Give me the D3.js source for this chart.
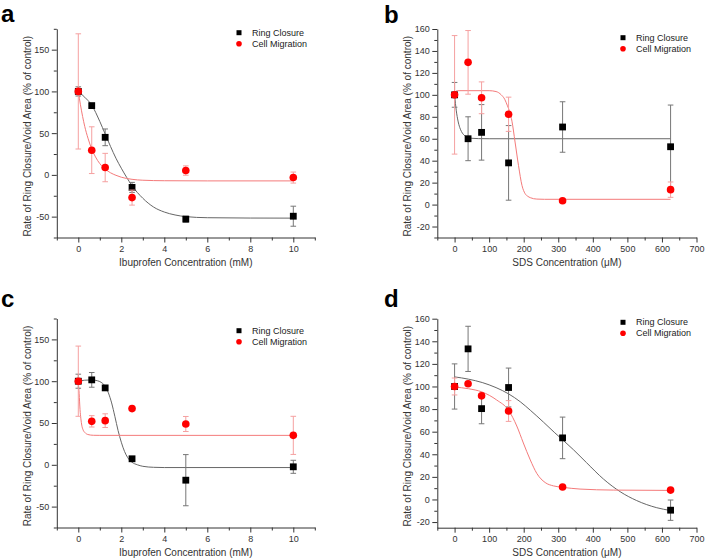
<!DOCTYPE html>
<html><head><meta charset="utf-8">
<script src="https://cdn.jsdelivr.net/npm/d3@7"></script>
<style>
body{margin:0;background:#fff}
svg{display:block}
text{font-family:"Liberation Sans",Arial,sans-serif}
</style>
</head><body>
<svg id="chart" width="705" height="560"></svg>
<script>
// ---------- data ----------
const ibuConc = [0, 0.625, 1.25, 2.5, 5, 10];
const sdsConc = [0, 39.0625, 78.125, 156.25, 312.5, 625];

const ibuXTicks = [0, 2, 4, 6, 8, 10];
const ibuYTicks = [-50, 0, 50, 100, 150];
const sdsXTicks = [0, 100, 200, 300, 400, 500, 600, 700];
const sdsYTicks = [-20, 0, 20, 40, 60, 80, 100, 120, 140, 160];

const seriesNames = ["Ring Closure", "Cell Migration"];
const panelLabels = ["a", "b", "c", "d"];
const ibuTitle = "Ibuprofen Concentration (mM)";
const sdsTitle = "SDS Concentration (\u03BCM)";
const yTitle = "Rate of Ring Closure/Void Area (% of control)";

// panel a
const aRingMean = [100, 83, 45, -15, -53, -49.5];
const aRingErr  = [5.5, 2.5, 10, 6, 3.5, 12];
const aMigMean  = [100, 29.6, 8.8, -27.2, 5.2, -3.2];
const aMigErr   = [69, 28, 17, 9, 5.6, 6.6];
const aRingFit = [[0,100],[0.3,93],[0.625,83.5],[1,64],[1.25,49],[1.5,34],[1.75,20],[2,8],[2.25,-3],[2.5,-13],[3,-28],[3.5,-38.5],[4,-44.5],[4.5,-48],[5,-50],[6,-51.3],[8,-51.7],[10,-51.8]];
const aMigFit  = [[0,100],[0.1,84],[0.2,70],[0.3,58],[0.45,44],[0.625,31],[0.8,21.5],[1,13.5],[1.25,7],[1.5,2.5],[1.75,-0.5],[2,-2.8],[2.5,-5.3],[3,-6.4],[4,-7],[6,-7.2],[10,-7.2]];

// panel b
const bRingMean = [100, 60, 65.8, 38, 70.7, 52.7];
const bRingErr  = [11.3, 20, 25.3, 34, 23, 38];
const bMigMean  = [100, 129.6, 97.3, 82.3, 3.5, 13.6];
const bMigErr   = [54, 29, 14.5, 15.6, 1.5, 7];
const bRingFit = [[0,100],[5,85.4],[10,76.1],[15,70.2],[20,66.5],[30,62.6],[40,61.1],[50,60.4],[70,60.1],[100,60],[625,60]];
const bMigFit  = [[0,100],[3,103],[8,103.8],[100,103.8],[120,103],[135,100],[145,96],[153,90],[160,84],[166,76],[175,57],[185,35.5],[195,17.5],[204,10],[212,7.5],[219,6.3],[238,5],[260,4.8],[625,4.8]];

// panel c
const cRingMean = [100, 101.6, 92, 7.2, -18.4, -2.4];
const cRingErr  = [8.4, 8.8, 2.5, 2.5, 30.6, 7.8];
const cMigMean  = [100, 52, 52.8, 67.2, 48.8, 35.2];
const cMigErr   = [42, 6.8, 8.2, 2, 9, 22.8];
const cRingFit = [[0,100],[0.3,101.2],[0.625,101.5],[0.9,100.5],[1.1,98],[1.25,94],[1.4,86],[1.55,74],[1.7,58],[1.85,41],[2,27],[2.15,16],[2.3,8.5],[2.5,3],[2.75,0],[3,-1.8],[3.5,-3],[4,-3.3],[10,-3.3]];
const cMigFit  = [[0,100],[0.04,85],[0.08,66],[0.12,55],[0.16,47.5],[0.22,42],[0.31,38.5],[0.45,36.2],[0.7,35.3],[1,35.2],[10,35.2]];

// panel d
const dRingMean = [100, 133.3, 80.4, 99.1, 54.5, -9.5];
const dRingErr  = [20, 20, 13.4, 17.2, 18.4, 9];
const dMigMean  = [100, 102.4, 91.7, 78.3, 11, 8.3];
const dMigErr   = [7.5, 1, 1, 9.2, 1, 1];
const dRingFit = [[0,108.5],[40,106.5],[80,103.5],[120,99],[156,93.5],[190,86.5],[219,79],[257,68.5],[290,59],[312,53],[344,44],[382,32.5],[431,18],[481,6.5],[527,-1],[585,-7.3],[625,-9.8]];
const dMigFit  = [[0,99.5],[40.5,98],[79,95.2],[122,88],[156,79],[180,65],[199,50],[219,35],[238,23],[262,15],[286,12],[312,10.8],[363,9.2],[459,8.3],[625,8]];

// ---------- layout ----------
const panels = [
  {label: panelLabels[0], lx: 1, ly: 22, xr: [56.8, 314.8], yr: [237.5, 28.8], xd: [-1, 11], yd: [-75, 175],
   xMajor: ibuXTicks, xMinorStep: 1, yMajor: ibuYTicks, yMinorStep: 25, conc: ibuConc, xTitle: ibuTitle,
   ring: [aRingMean, aRingErr, aRingFit], mig: [aMigMean, aMigErr, aMigFit], leg: [239, 32.7]},
  {label: panelLabels[1], lx: 384, ly: 22.5, xr: [437.3, 696.5], yr: [237.5, 29], xd: [-50, 700], yd: [-30, 160],
   xMajor: sdsXTicks, xMinorStep: 50, yMajor: sdsYTicks, yMinorStep: 10, conc: sdsConc, xTitle: sdsTitle,
   ring: [bRingMean, bRingErr, bRingFit], mig: [bMigMean, bMigErr, bMigFit], leg: [623, 37.7]},
  {label: panelLabels[2], lx: 1, ly: 306.5, xr: [56.8, 314.8], yr: [527.5, 318.5], xd: [-1, 11], yd: [-75, 175],
   xMajor: ibuXTicks, xMinorStep: 1, yMajor: ibuYTicks, yMinorStep: 25, conc: ibuConc, xTitle: ibuTitle,
   ring: [cRingMean, cRingErr, cRingFit], mig: [cMigMean, cMigErr, cMigFit], leg: [239, 330.7]},
  {label: panelLabels[3], lx: 384, ly: 306.5, xr: [437.3, 696.5], yr: [527.7, 318.7], xd: [-50, 700], yd: [-25, 160],
   xMajor: sdsXTicks, xMinorStep: 50, yMajor: sdsYTicks, yMinorStep: 10, conc: sdsConc, xTitle: sdsTitle,
   ring: [dRingMean, dRingErr, dRingFit], mig: [dMigMean, dMigErr, dMigFit], leg: [623, 322.3]}
];

const AXIS = "#333";
const ringColor = "#000", migColor = "#ff0000";
const ringFitColor = "#666", migFitColor = "#f47a7a";
const ringErrColor = "#777", migErrColor = "#f5a0a0";

const svg = d3.select("#chart");
svg.append("rect").attr("width", 705).attr("height", 560).attr("fill", "#fff");

function minorTicks(domain, step, major) {
  const start = Math.ceil(domain[0] / step) * step;
  return d3.range(start, domain[1] + step * 0.01, step).filter(v => !major.some(m => Math.abs(m - v) < 1e-9));
}

panels.forEach(p => {
  const x = d3.scaleLinear().domain(p.xd).range(p.xr);
  const y = d3.scaleLinear().domain(p.yd).range(p.yr);
  const g = svg.append("g");
  const yBot = p.yr[0], xLeft = p.xr[0];

  // minor ticks
  g.append("g").attr("transform", `translate(0,${yBot})`)
    .call(d3.axisBottom(x).tickValues(minorTicks(p.xd, p.xMinorStep, p.xMajor)).tickSize(3).tickSizeOuter(0).tickFormat(""))
    .call(s => s.select(".domain").remove());
  g.append("g").attr("transform", `translate(${xLeft},0)`)
    .call(d3.axisLeft(y).tickValues(minorTicks(p.yd, p.yMinorStep, p.yMajor)).tickSize(3).tickSizeOuter(0).tickFormat(""))
    .call(s => s.select(".domain").remove());
  // major axes
  const xa = g.append("g").attr("transform", `translate(0,${yBot})`)
    .call(d3.axisBottom(x).tickValues(p.xMajor).tickSize(5).tickSizeOuter(0).tickPadding(3).tickFormat(d => String(d)));
  const ya = g.append("g").attr("transform", `translate(${xLeft},0)`)
    .call(d3.axisLeft(y).tickValues(p.yMajor).tickSize(5).tickSizeOuter(0).tickPadding(2.5).tickFormat(d => String(d)));
  [xa, ya].forEach(a => {
    a.selectAll("text").attr("font-size", 9).attr("fill", "#333").attr("font-family", '"Liberation Sans",Arial,sans-serif');
    a.selectAll("line").attr("stroke", AXIS);
    a.select(".domain").attr("stroke", AXIS);
  });
  g.selectAll(".tick line").attr("stroke", AXIS);

  // titles
  g.append("text").attr("x", (p.xr[0] + p.xr[1]) / 2).attr("y", yBot + 28.5)
    .attr("text-anchor", "middle").attr("font-size", 10).attr("fill", "#333").text(p.xTitle);
  g.append("text").attr("transform", `translate(${xLeft - 26},${(p.yr[0] + p.yr[1]) / 2 + 3}) rotate(-90)`)
    .attr("text-anchor", "middle").attr("font-size", 10).attr("fill", "#333").text(yTitle);

  // panel label
  svg.append("text").attr("x", p.lx).attr("y", p.ly)
    .attr("font-size", 24).attr("font-weight", "bold")
    .attr("font-family", '"Open Sans","DejaVu Sans",sans-serif').attr("fill", "#000").text(p.label);

  const line = d3.line().x(d => x(d[0])).y(d => y(d[1])).curve(d3.curveMonotoneX);

  const series = [
    {vals: p.ring, color: ringColor, fit: ringFitColor, err: ringErrColor, shape: "square"},
    {vals: p.mig, color: migColor, fit: migFitColor, err: migErrColor, shape: "circle"}
  ];
  // fit lines
  series.forEach(s => {
    g.append("path").datum(s.vals[2]).attr("d", line)
      .attr("fill", "none").attr("stroke", s.fit).attr("stroke-width", 1);
  });
  series.forEach(s => {
    const pts = p.conc.map((c, i) => ({c, m: s.vals[0][i], e: s.vals[1][i]}));
    const eg = g.append("g").attr("stroke", s.err).attr("stroke-width", 1);
    pts.forEach(d => {
      const cx = x(d.c), y1 = y(d.m + d.e), y2 = y(d.m - d.e);
      eg.append("line").attr("x1", cx).attr("x2", cx).attr("y1", y1).attr("y2", y2);
      eg.append("line").attr("x1", cx - 2.8).attr("x2", cx + 2.8).attr("y1", y1).attr("y2", y1);
      eg.append("line").attr("x1", cx - 2.8).attr("x2", cx + 2.8).attr("y1", y2).attr("y2", y2);
    });
    if (s.shape === "square") {
      g.selectAll(null).data(pts).enter().append("rect")
        .attr("x", d => x(d.c) - 3.4).attr("y", d => y(d.m) - 3.4)
        .attr("width", 6.8).attr("height", 6.8).attr("fill", s.color);
    } else {
      g.selectAll(null).data(pts).enter().append("circle")
        .attr("cx", d => x(d.c)).attr("cy", d => y(d.m)).attr("r", 3.8).attr("fill", s.color);
    }
  });

  // legend
  const lg = g.append("g");
  seriesNames.forEach((name, i) => {
    const ly = p.leg[1] + i * 11;
    if (i === 0) {
      lg.append("rect").attr("x", p.leg[0] - 2.5).attr("y", ly - 2.5).attr("width", 5).attr("height", 5).attr("fill", ringColor);
    } else {
      lg.append("circle").attr("cx", p.leg[0]).attr("cy", ly).attr("r", 2.8).attr("fill", migColor);
    }
    lg.append("text").attr("x", p.leg[0] + 13).attr("y", ly).attr("dy", "0.35em")
      .attr("font-size", 9).attr("fill", "#222").text(name);
  });
});
</script>
</body></html>
